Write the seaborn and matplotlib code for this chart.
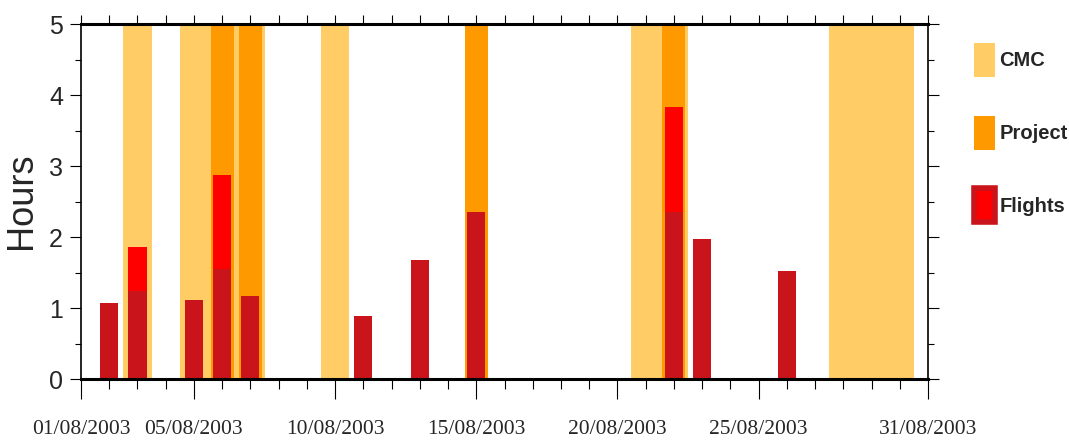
import matplotlib
matplotlib.use("Agg")
import matplotlib.pyplot as plt
from matplotlib.patches import Patch
from matplotlib.ticker import MultipleLocator
import seaborn as sns
import pandas as pd

# ---- data (day of month, August 2003) ----
all_days = list(range(1, 32))
cmc_days = [3, 5, 6, 7, 10, 21, 22, 28, 29, 30]
cmc_hours = [5, 5, 5, 5, 5, 5, 5, 5, 5, 5]
project_days = [6, 7, 15, 22]
project_hours = [5, 5, 5, 5]
flight_days = [2, 3, 5, 6, 7, 11, 13, 15, 22, 23, 26]
flight_hours = [1.07, 1.25, 1.12, 1.55, 1.18, 0.89, 1.68, 2.36, 2.36, 1.97, 1.52]
extra_days = [3, 6, 22]
extra_top = [1.86, 2.88, 3.83]
tick_days = [1, 5, 10, 15, 20, 25, 31]
tick_labels = ["01/08/2003", "05/08/2003", "10/08/2003", "15/08/2003",
               "20/08/2003", "25/08/2003", "31/08/2003"]
legend_labels = ["CMC", "Project", "Flights"]

c_cmc = "#FFCC66"
c_proj = "#FF9900"
c_dark = "#C8141A"
c_red = "#FF0000"

sns.set_theme(style="ticks")
plt.rcParams["font.family"] = ["Liberation Sans", "DejaVu Sans"]

fig = plt.figure(figsize=(10.69, 4.4), dpi=100)
ax = fig.add_axes([81 / 1069, 1 - 379.3 / 440, (928 - 81) / 1069, (379.3 - 24.3) / 440])

def bars(days, vals, color, width):
    df = pd.DataFrame({"day": days, "h": vals})
    sns.barplot(data=df, x="day", y="h", order=all_days, color=color,
                width=width, errorbar=None, saturation=1, linewidth=0, ax=ax)

bars(cmc_days, cmc_hours, c_cmc, 1.02)
bars(project_days, project_hours, c_proj, 0.82)
bars(extra_days, extra_top, c_red, 0.64)
bars(flight_days, flight_hours, c_dark, 0.64)

ax.set_xlim(0, 30)
ax.set_ylim(0, 5)
ax.set_xlabel("")
ax.set_ylabel("")

major_pos = [d - 1 for d in tick_days]
ax.set_xticks(major_pos)
ax.set_xticklabels(tick_labels, family="Liberation Serif", fontsize=15.5)
ax.xaxis.set_minor_locator(MultipleLocator(1))
ax.tick_params(axis="x", which="major", direction="out", length=14.5, width=0.8,
               color="black", pad=15, bottom=True, top=False)
ax.tick_params(axis="x", which="minor", direction="out", length=7, width=0.8,
               color="black", bottom=True, top=False)

ax.set_yticks([0, 1, 2, 3, 4, 5])
ax.set_yticklabels(["0", "1", "2", "3", "4", "5"], fontsize=18)
ax.yaxis.set_minor_locator(MultipleLocator(0.5))
ax.tick_params(axis="y", which="major", direction="out", length=8, width=0.8,
               color="black", pad=5, left=True, right=True)
ax.tick_params(axis="y", which="minor", direction="out", length=4.3, width=0.8,
               color="black", left=True, right=True)

secx = ax.secondary_xaxis("top")
secx.set_xticks(list(range(0, 31)))
secx.tick_params(axis="x", direction="out", length=6.5, width=0.8, color="black",
                 labeltop=False, top=True)
secx.spines["top"].set_visible(False)

for s in ["top", "bottom"]:
    ax.spines[s].set_linewidth(2.2)
    ax.spines[s].set_color("black")
for s in ["left", "right"]:
    ax.spines[s].set_linewidth(1.2)
    ax.spines[s].set_color("black")
    ax.spines[s].set_visible(True)

fig.text(22 / 1069, 1 - 201 / 440, "Hours", rotation=90, ha="center", va="center",
         fontsize=26, family="Liberation Sans")

handles = [Patch(facecolor=c_cmc, edgecolor="none"),
           Patch(facecolor=c_proj, edgecolor="none"),
           Patch(facecolor=c_red, edgecolor=c_dark, linewidth=4)]
fig.legend(handles, legend_labels, loc="upper left",
           bbox_to_anchor=(974 / 1069, 1 - 43 / 440), frameon=False,
           borderpad=0, borderaxespad=0,
           prop={"family": "Liberation Sans", "weight": "bold", "size": 14.5},
           handlelength=1.05, handleheight=2.22, labelspacing=1.92,
           handletextpad=0.2)

fig.savefig("out.png", dpi=100)
